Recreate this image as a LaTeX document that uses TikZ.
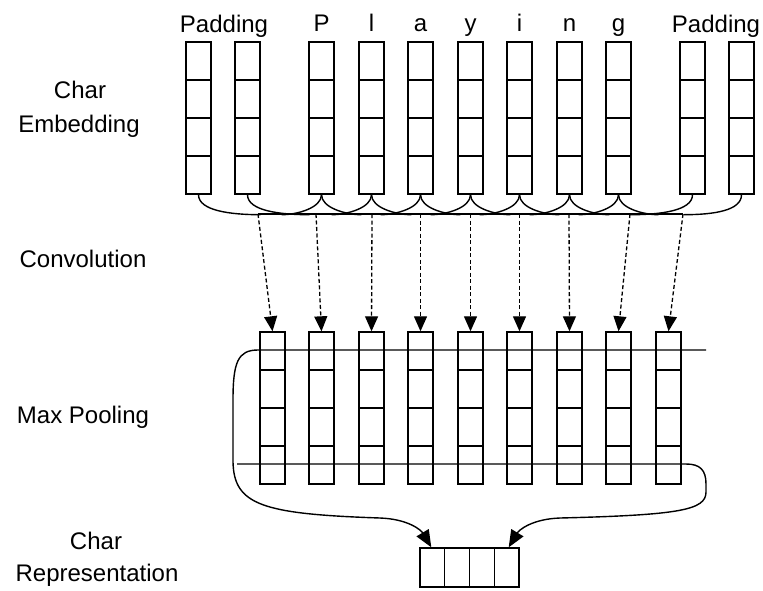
\documentclass[tikz,border=0pt]{standalone}
\usepackage{fontspec}
\setmainfont{Liberation Sans}
\usetikzlibrary{calc,arrows.meta}
\begin{document}
\begin{tikzpicture}[x=1pt,y=-1pt,line width=1.4pt,
  lab/.style={font=\fontsize{24}{33}\selectfont, inner sep=0pt},
  col/.style={draw, rectangle, inner sep=0pt, minimum width=25pt, minimum height=152pt,
    path picture={\foreach \k in {1,2,3}{\draw[line width=1.4pt] ($(path picture bounding box.north west)!\k/4!(path picture bounding box.south west)$) -- ($(path picture bounding box.north east)!\k/4!(path picture bounding box.south east)$);}}},
  repbox/.style={draw, rectangle, inner sep=0pt, minimum width=99pt, minimum height=39pt,
    path picture={\foreach \k in {1,2,3}{\draw[line width=1.4pt] ($(path picture bounding box.north west)!\k/4!(path picture bounding box.north east)$) -- ($(path picture bounding box.south west)!\k/4!(path picture bounding box.south east)$);}}},
  conv/.style={line width=1.3pt, dash pattern=on 4pt off 2.5pt, -{Triangle[length=15pt,width=13pt]}},
  pool/.style={-{Triangle[length=17pt,width=14pt]}}]
\useasboundingbox (0,0) rectangle (763,590);

% side labels
\node[lab,anchor=base] (l1a) at (80,98) {Char};
\node[lab,anchor=base] (l1b) at (79,132) {Embedding};
\node[lab,anchor=base] (l2) at (83,267) {Convolution};
\node[lab,anchor=base] (l3) at (83,423) {Max Pooling};
\node[lab,anchor=base] (l4a) at (96,549) {Char};
\node[lab,anchor=base] (l4b) at (97,581) {Representation};

% char embedding columns
\foreach \x [count=\i] in {198.5,247.5,321.5,371.5,420.5,470.5,519.5,569.5,618.5,692.5,741.5}
  \node[col] (e\i) at (\x,118) {};

% top labels
\node[lab,anchor=base] (pad1) at (224,32) {Padding};
\node[lab,anchor=base] (pad2) at (716,32) {Padding};
\foreach \t [count=\i from 3] in {P,l,a,y,i,n,g}
  \node[lab,anchor=base] (t\i) at ($(e\i.north)+(0,-10)$) {\t};

% convolution windows
\draw (e1.south) .. controls +(0,16) and +(-30,0) .. +(62,20);
\draw (e2.south) .. controls +(0,16) and +(-30,0) .. +(62,20);
\foreach \i in {3,...,9}{
  \draw (e\i.south) .. controls +(0,13) and +(16,0) .. +(-40,20);
  \draw (e\i.south) .. controls +(0,13) and +(-16,0) .. +(40,20);
}
\draw (e10.south) .. controls +(0,16) and +(30,0) .. +(-62,20);
\draw (e11.south) .. controls +(0,16) and +(30,0) .. +(-58,20);

\foreach \x [count=\i] in {258,316,372,420.5,470.5,519.5,569,630,683}
  \coordinate (b\i) at (\x,214);
\draw (b1) -- (b9);

% convolution output columns
\foreach \x [count=\i] in {272.5,321.5,371.5,420.5,470.5,519.5,569.5,618.5,668.5}
  \node[col] (c\i) at (\x,408) {};

\foreach \i in {1,...,9}
  \draw[conv] (b\i) -- (c\i.north);

% char representation
\node[repbox] (r) at (469.5,567.5) {};
\coordinate (rl) at ($(r.north west)+(12,0)$);
\coordinate (rr) at ($(r.north east)+(-11,0)$);
\coordinate (p1) at (706,350);
\coordinate (p2) at (237,464);

% max pooling
\draw[pool] (p1) -- (258,350) .. controls (238,350) and (233,362) .. (233,400) -- (233,462)
  .. controls (234,505) and (262,514) .. (380,518) .. controls (408,519) and (421,530) .. (rl);
\draw[pool] (p2) -- (686,464) .. controls (700,464) and (706,470) .. (706,484) -- (706,492)
  .. controls (706,510) and (680,515) .. (560,518) .. controls (532,519) and (519,530) .. (rr);
\end{tikzpicture}
\end{document}
